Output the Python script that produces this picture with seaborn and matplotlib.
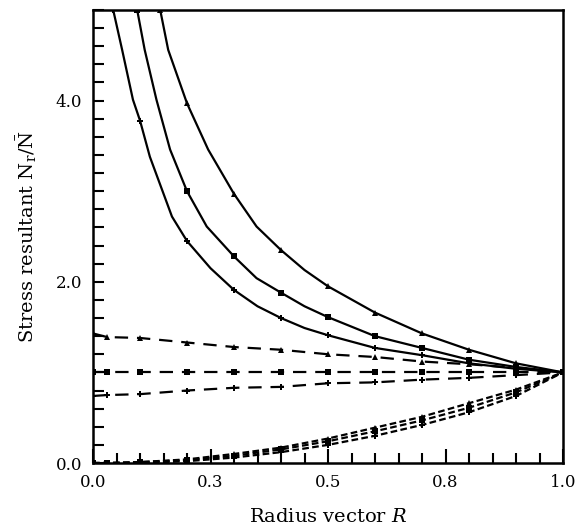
import matplotlib
matplotlib.use("Agg")
import matplotlib.pyplot as plt
import seaborn as sns
import numpy as np
import pandas as pd
from matplotlib.ticker import MultipleLocator, FixedLocator

sns.set_theme(style="white")
plt.rcParams['font.family'] = ['DejaVu Serif']
plt.rcParams['mathtext.fontset'] = 'dejavuserif'

# Solid curves (upper group)
rA = [0.043, 0.062, 0.085, 0.1, 0.121, 0.168, 0.2, 0.25, 0.3, 0.35, 0.4, 0.45, 0.5, 0.6, 0.7, 0.8, 0.9, 1.0]
yA = [5.0, 4.56, 4.01, 3.78, 3.38, 2.72, 2.45, 2.15, 1.91, 1.73, 1.60, 1.49, 1.41, 1.27, 1.19, 1.10, 1.04, 1.0]
mA = [0, 3, 6, 8, 10, 12, 13, 14, 15, 16, 17]

rB = [0.094, 0.11, 0.135, 0.164, 0.2, 0.242, 0.3, 0.348, 0.4, 0.45, 0.5, 0.6, 0.7, 0.8, 0.9, 1.0]
yB = [5.0, 4.56, 4.01, 3.46, 3.0, 2.61, 2.28, 2.04, 1.88, 1.73, 1.61, 1.40, 1.27, 1.14, 1.06, 1.0]
mB = [0, 4, 6, 8, 10, 11, 12, 13, 14, 15]

rC = [0.143, 0.16, 0.2, 0.245, 0.3, 0.348, 0.4, 0.45, 0.5, 0.6, 0.7, 0.8, 0.9, 1.0]
yC = [5.0, 4.56, 3.97, 3.46, 2.97, 2.61, 2.35, 2.13, 1.95, 1.66, 1.43, 1.25, 1.10, 1.0]
mC = [0, 2, 4, 6, 8, 9, 10, 11, 12, 13]

# Dashed curves (middle group)
rD = [0.0, 0.03, 0.1, 0.2, 0.3, 0.4, 0.5, 0.6, 0.7, 0.8, 0.9, 1.0]
yD1 = [1.43, 1.39, 1.38, 1.33, 1.28, 1.25, 1.20, 1.17, 1.12, 1.09, 1.05, 1.0]
yD2 = [1.0, 1.0, 1.0, 1.0, 1.0, 1.0, 1.0, 1.0, 1.0, 1.0, 1.0, 1.0]
yD3 = [0.74, 0.75, 0.76, 0.80, 0.83, 0.84, 0.88, 0.89, 0.92, 0.94, 0.97, 1.0]

# Short-dashed curves (lower group)
yE1 = [0.0, 0.0, 0.01, 0.04, 0.10, 0.17, 0.27, 0.39, 0.51, 0.66, 0.81, 1.0]
yE2 = [0.0, 0.0, 0.01, 0.03, 0.08, 0.15, 0.24, 0.35, 0.47, 0.61, 0.78, 1.0]
yE3 = [0.0, 0.0, 0.0, 0.02, 0.06, 0.12, 0.20, 0.30, 0.42, 0.56, 0.74, 1.0]

xticks = [0.0, 0.25, 0.5, 0.75, 1.0]
xticklabels = ["0.0", "0.3", "0.5", "0.8", "1.0"]
yticks = [0.0, 2.0, 4.0]
yticklabels = ["0.0", "2.0", "4.0"]

fig = plt.figure(figsize=(5.79, 5.31), dpi=100)
ax = fig.add_axes([93/579, 68/531, 470/579, 453/531])

lw = 1.6
solid = [(rA, yA, mA, 'P'), (rB, yB, mB, 's'), (rC, yC, mC, '^')]
for r, y, me, mk in solid:
    sns.lineplot(x=r, y=y, ax=ax, color='black', lw=lw, marker=mk, markersize=4.5,
                 markevery=me, markeredgewidth=0, sort=False, estimator=None)

for y, mk in [(yD1, '^'), (yD2, 's'), (yD3, 'P')]:
    sns.lineplot(x=rD, y=y, ax=ax, color='black', lw=lw, marker=mk, markersize=4.5,
                 markeredgewidth=0, linestyle=(0, (6, 4)), sort=False, estimator=None)

for y, mk in [(yE1, '^'), (yE2, 's'), (yE3, 'P')]:
    sns.lineplot(x=rD, y=y, ax=ax, color='black', lw=lw, marker=mk, markersize=4.5,
                 markeredgewidth=0, linestyle=(0, (3, 1.5)), sort=False, estimator=None)

ax.set_xlim(0, 1.0)
ax.set_ylim(0, 5.0)
ax.xaxis.set_major_locator(FixedLocator(xticks))
ax.set_xticklabels(xticklabels)
ax.xaxis.set_minor_locator(MultipleLocator(0.05))
ax.yaxis.set_major_locator(FixedLocator(yticks))
ax.set_yticklabels(yticklabels)
ax.yaxis.set_minor_locator(MultipleLocator(0.2))

ax.tick_params(axis='both', which='both', direction='in', color='black', width=1.5,
               labelsize=12, labelcolor='black', bottom=True, left=True, top=False, right=False)
ax.tick_params(axis='x', which='major', length=10, pad=8)
ax.tick_params(axis='x', which='minor', length=7)
ax.tick_params(axis='y', which='major', length=8, pad=8)
ax.tick_params(axis='y', which='minor', length=8)

for s in ax.spines.values():
    s.set_visible(True)
    s.set_color('black')
    s.set_linewidth(1.8)

ax.set_xlabel(r'Radius vector $R$', fontsize=14, color='black', labelpad=12)
ax.set_ylabel(r'Stress resultant $\mathrm{N_r/\bar{N}}$', fontsize=14, color='black', labelpad=12)
ax.grid(False)

fig.savefig("out.png", dpi=100)
